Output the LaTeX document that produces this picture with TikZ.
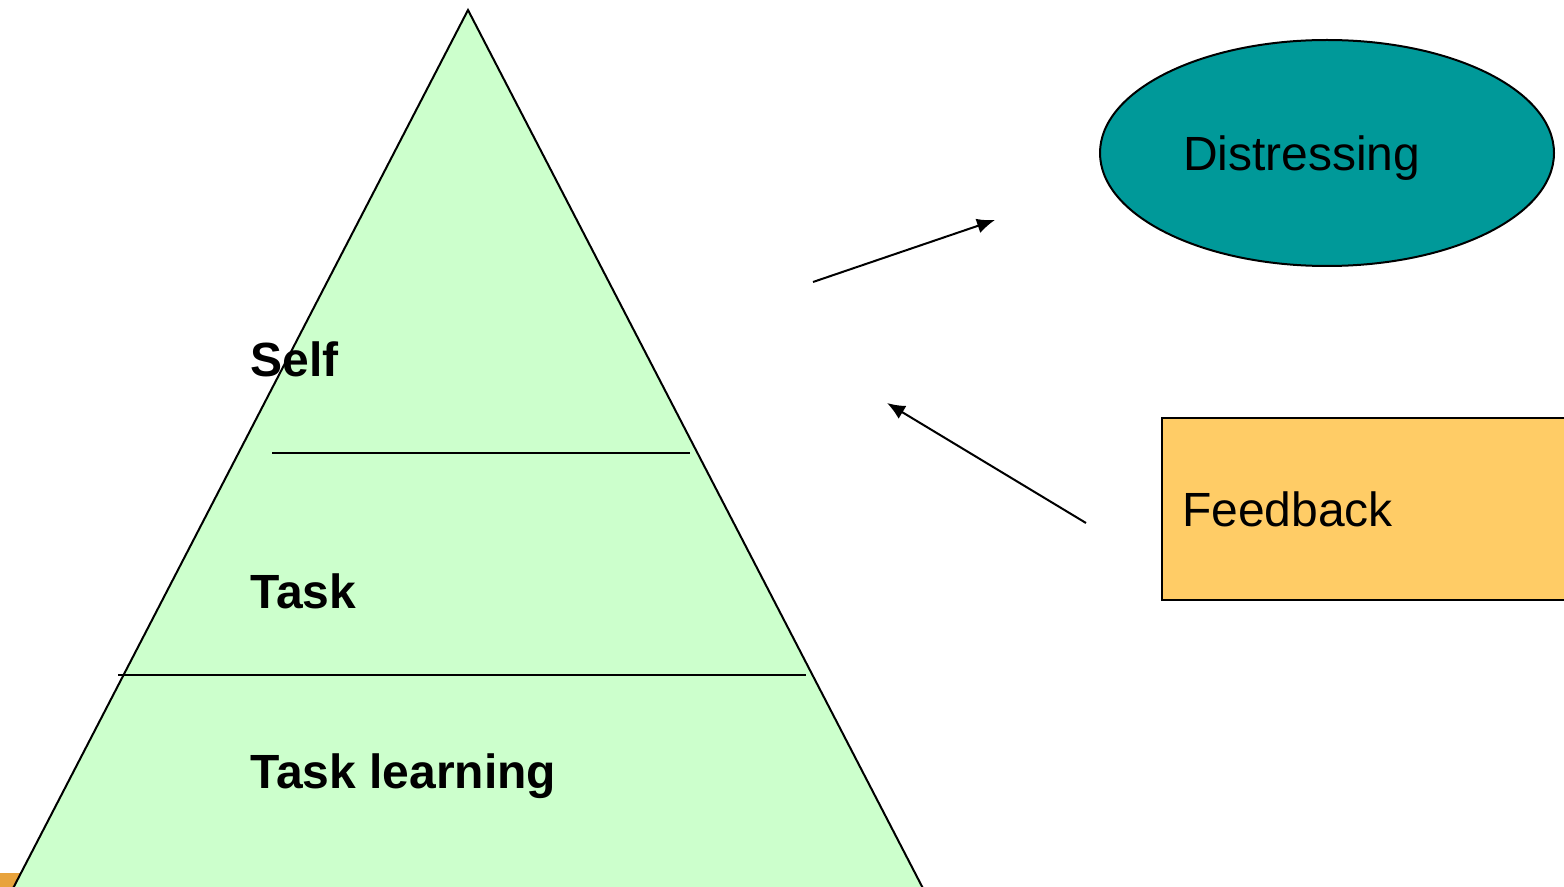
\documentclass[tikz,border=0pt]{standalone}
\usepackage{fontspec}
\setmainfont{Liberation Sans}
\usetikzlibrary{shapes,arrows.meta}
\definecolor{pyramidgreen}{HTML}{CCFFCC}
\definecolor{teal}{HTML}{009999}
\definecolor{boxorange}{HTML}{FFCC66}
\definecolor{cornerorange}{HTML}{E8A33D}
\tikzstyle{level} = [anchor=base west, inner sep=0pt, font=\fontsize{24}{28}\selectfont\bfseries]
\tikzstyle{oval} = [ellipse, draw, fill=teal, line width=1pt, inner sep=0pt,
    minimum width=227pt, minimum height=113pt, text width=144pt, text depth=0pt,
    align=left, font=\fontsize{24}{28}\selectfont]
\tikzstyle{block} = [rectangle, draw, fill=boxorange, line width=1pt, inner xsep=10pt,
    minimum height=91pt, text width=208pt, align=left, font=\fontsize{24}{28}\selectfont]
\tikzstyle{line} = [draw, line width=1pt, -{Latex[length=9pt,width=7.5pt]}]

\begin{document}
\begin{tikzpicture}[x=0.5pt, y=-0.5pt]
    \useasboundingbox (0,0) rectangle (1564,887);
    \clip (0,0) rectangle (1564,887);

    % Pyramid
    \fill [cornerorange] (0,873) rectangle (200,900);
    \draw [fill=pyramidgreen, line width=1pt] (468,10) -- (929,900) -- (7,900) -- cycle;
    \draw [line width=1pt] (272,453) -- (690,453);
    \draw [line width=1pt] (118,675) -- (806,675);

    % Place nodes
    \node [level] (self) at (250,377) {Self};
    \node [level] (task) at (250,608) {Task};
    \node [level] (tasklearning) at (250,788) {Task learning};

    \node [oval] (distressing) at (1327,153) {Distressing};
    \node [block, anchor=west] (feedback) at (1161,509) {Feedback};

    \coordinate (outstart) at (813,282);
    \coordinate (outend) at (995,220);
    \coordinate (instart) at (1086,523);
    \coordinate (inend) at (887,403);

    % Draw edges
    \path [line] (outstart) -- (outend);
    \path [line] (instart) -- (inend);
\end{tikzpicture}
\end{document}
